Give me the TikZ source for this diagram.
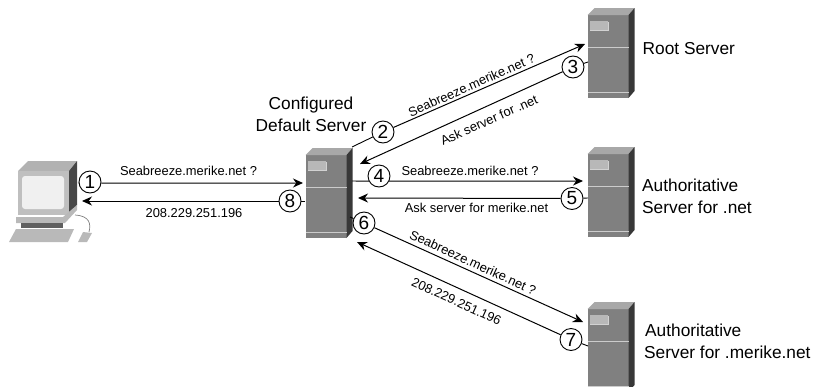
\documentclass[tikz,border=0pt]{standalone}
\usepackage{fontspec}
\setmainfont{Liberation Sans}
\usetikzlibrary{arrows.meta}
\definecolor{srvfront}{gray}{0.50}
\definecolor{srvtop}{gray}{0.66}
\definecolor{srvside}{gray}{0.22}
\definecolor{srvline}{gray}{0.80}
\definecolor{srvbadge}{gray}{0.72}
\tikzset{
  x=1pt,y=-1pt,
  num/.style={circle,draw=black,line width=0.9pt,fill=white,minimum size=22pt,inner sep=0pt,font=\fontsize{19}{19}\selectfont},
  flow/.style={line width=1pt,-{Stealth[length=10pt,width=9pt]}},
  tie/.style={line width=0.9pt},
  small/.style={font=\fontsize{12.9}{15}\selectfont,inner sep=0pt},
  big/.style={font=\fontsize{17.3}{22}\selectfont,inner sep=0pt},
  server/.pic={
    \fill[srvfront] (0,7) rectangle (41,90);
    \fill[srvtop] (0,7) -- (7,0) -- (47,0) -- (41,7) -- cycle;
    \fill[srvside] (41,7) -- (47,0) -- (47,83) -- (41,90) -- cycle;
    \fill[gray!35] (2.5,13.5) rectangle (21.5,23);
    \fill[srvbadge] (2,13) rectangle (20.5,22);
    \draw[gray!55,line width=0.4pt] (5,18) -- (17,17);
    \draw[srvline,line width=0.8pt] (0,39) -- (41,39);
    \draw[srvline,line width=0.8pt] (0,84) -- (41,84);
  }
}
\begin{document}
\begin{tikzpicture}
\useasboundingbox (0,0) rectangle (814,386);
\begin{scope}
\clip (0,0) rectangle (814,386);
\path (305.5,148) pic {server};
\path (587.5,8) pic {server};
\path (587.5,147) pic {server};
\path (587.5,302) pic {server};
\end{scope}
% computer
\fill[gray!60] (18,171) -- (28,161) -- (77,161) -- (69,171) -- cycle;
\fill[gray!50] (18,171) rectangle (69,215);
\fill[gray!12,rounded corners=3pt] (22,176) rectangle (64,209);
\fill[black!72] (69,171) -- (77,161) -- (77,205) -- (69,215) -- cycle;
\fill[gray!55] (16,217) -- (63,217) -- (77,205) -- (77,210) -- (65,223) -- (16,223) -- cycle;
\fill[gray!75!black] (21,223) rectangle (63,228);
\fill[gray!55] (16,229) -- (74,229) -- (68,242) -- (9,242) -- cycle;
\draw[gray,line width=0.7pt] (75,215) .. controls (90,216) and (91,224) .. (89,232);
\fill[gray!55] (83,232) -- (92,233) -- (87,242) -- (78,242) -- cycle;
% free ends
\coordinate (pc) at (78,183);
\coordinate (a1) at (303,183);
\coordinate (s8) at (305,201);
\coordinate (a8) at (82,201);
\coordinate (s2) at (352,147);
\coordinate (a2) at (585,44);
\coordinate (r3) at (588,62);
\coordinate (a3) at (360,164);
\coordinate (s4) at (352,181);
\coordinate (a4) at (583,181);
\coordinate (r5) at (588,198);
\coordinate (a5) at (358,198);
\coordinate (s6) at (350,217);
\coordinate (a6) at (583,322);
\coordinate (r7) at (588,346);
\coordinate (a7) at (357,242);
% step circles
\node[num] (n1) at (90,182) {1};
\node[num] (n2) at (383,132) {2};
\node[num] (n3) at (573,67) {3};
\node[num] (n4) at (379,176) {4};
\node[num] (n5) at (572,198.5) {5};
\node[num] (n6) at (364,223) {6};
\node[num] (n7) at (571,339.5) {7};
\node[num] (n8) at (290,201) {8};
% connectors
\draw[tie] (pc) -- (n1);
\draw[flow] (n1.-5) -- (a1);
\draw[tie] (s8) -- (n8);
\draw[flow] (n8) -- (a8);
\draw[tie] (s2) -- (n2);
\draw[flow] (n2) -- (a2);
\draw[tie] (r3) -- (n3);
\draw[flow] (n3) -- (a3);
\draw[tie] (s4) -- (n4.207);
\draw[flow] (n4.-27) -- (a4);
\draw[tie] (r5) -- (n5);
\draw[flow] (n5) -- (a5);
\draw[tie] (s6) -- (n6);
\draw[flow] (n6) -- (a6);
\draw[tie] (r7) -- (n7);
\draw[flow] (n7) -- (a7);
% labels
\node[small] (t1) at (188.5,170.5) {Seabreeze.merike.net ?};
\node[small] (t2) at (194,213) {208.229.251.196};
\node[small,rotate=24] (t3) at (471.5,85) {Seabreeze.merike.net ?};
\node[small,rotate=24] (t4) at (489,120) {Ask server for .net};
\node[small] (t5) at (470,170.5) {Seabreeze.merike.net ?};
\node[small] (t6) at (476.5,208) {Ask server for merike.net};
\node[small,rotate=-24.4] (t7) at (473,262.5) {Seabreeze.merike.net ?};
\node[small,rotate=-24.4] (t8) at (456.5,301.5) {208.229.251.196};
\node[big,anchor=west] (b1) at (642.5,49) {Root Server};
\node[big,align=center] (b2) at (311,114.5) {Configured\\Default Server};
\node[big,align=left,anchor=west] (b3) at (642,196.5) {Authoritative\\Server for .net};
\node[big,align=left,anchor=west] (b4) at (644,341.5) {\hspace{1pt}Authoritative\\Server for .merike.net};
\end{tikzpicture}
\end{document}
